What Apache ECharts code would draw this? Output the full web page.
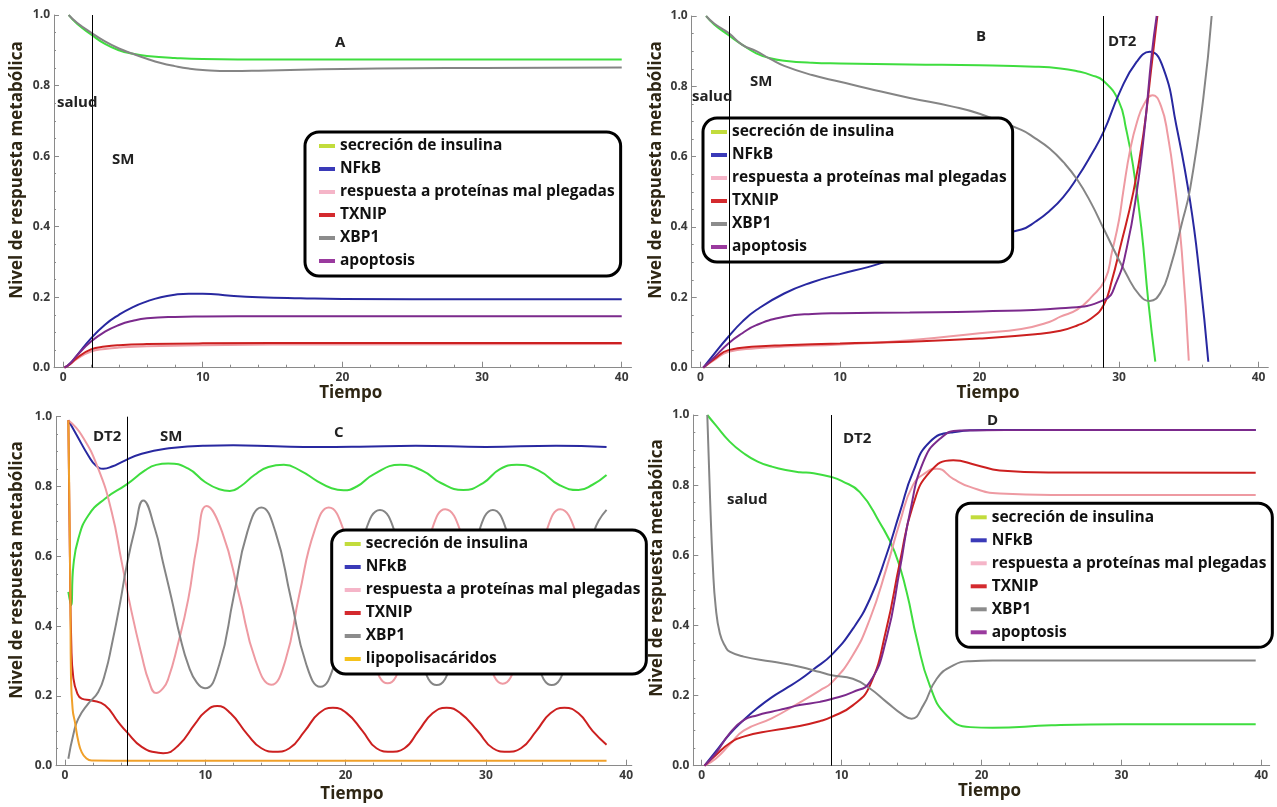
<!DOCTYPE html>
<html lang="es">
<head>
<meta charset="UTF-8">
<title>Nivel de respuesta metabólica</title>
<script src="https://cdn.jsdelivr.net/npm/echarts@6.0.0/dist/echarts.min.js"></script>
<style>
    html, body { margin: 0; padding: 0; background: #fff; }
    #main { width: 1277px; height: 807px; }
</style>
</head>
<body>
<div id="main"></div>
<script>
    // ---- datos: [tiempo, nivel] ----
    // panel A
    var aInsulina = [[0.4,1.0],[1,0.975],[2,0.945],[3,0.918],[4,0.9],[5,0.89],[6,0.884],[8,0.878],[10,0.875],[15,0.874],[20,0.874],[30,0.874],[40,0.874]];
    var aNfkb = [[0.1,0],[0.5,0.012],[1,0.035],[2,0.083],[3,0.122],[4,0.15],[5,0.172],[6,0.188],[7,0.2],[8,0.207],[9,0.21],[10,0.21],[12,0.204],[14,0.2],[17,0.197],[20,0.195],[30,0.194],[40,0.194]];
    var aUpr = [[0.1,0],[0.5,0.01],[1,0.025],[2,0.046],[3,0.053],[4,0.057],[6,0.061],[10,0.064],[20,0.066],[40,0.067]];
    var aTxnip = [[0.1,0],[0.5,0.01],[1,0.028],[2,0.052],[3,0.06],[4,0.064],[6,0.067],[10,0.069],[20,0.07],[40,0.07]];
    var aXbp1 = [[0.4,1.0],[1,0.978],[2,0.95],[3,0.925],[4,0.905],[5,0.89],[6,0.876],[7,0.864],[8,0.855],[9,0.848],[10,0.844],[12,0.841],[14,0.842],[17,0.845],[20,0.847],[25,0.849],[30,0.85],[40,0.851]];
    var aApoptosis = [[0.1,0],[0.5,0.012],[1,0.035],[2,0.074],[3,0.102],[4,0.121],[5,0.133],[6,0.14],[8,0.144],[10,0.145],[15,0.146],[20,0.146],[30,0.146],[40,0.146]];

    // panel B
    var bInsulina = [[0.4,1.0],[1,0.975],[2,0.946],[3,0.918],[4,0.894],[5,0.88],[6,0.873],[8,0.867],[10,0.865],[15,0.862],[20,0.86],[24,0.856],[25.8,0.851],[27,0.843],[28,0.832],[28.9,0.815],[30,0.756],[30.5,0.68],[31,0.576],[31.6,0.397],[32.1,0.188],[32.6,0.017]];
    var bNfkb = [[0.2,0],[1,0.04],[2,0.088],[3,0.131],[4,0.164],[6,0.211],[8,0.243],[10,0.266],[12,0.286],[13,0.298],[15,0.325],[18,0.355],[20,0.37],[23,0.393],[24,0.415],[25,0.445],[26,0.485],[27,0.54],[28,0.605],[28.9,0.671],[30.07,0.785],[31.27,0.87],[32.2,0.898],[33.18,0.851],[34.1,0.69],[35.1,0.472],[35.8,0.254],[36.4,0.017]];
    var bUpr = [[0.2,0],[1,0.022],[2,0.045],[4,0.055],[6,0.06],[10,0.066],[15,0.078],[20,0.098],[23,0.11],[25,0.13],[25.8,0.145],[27,0.165],[28,0.2],[29,0.25],[29.5,0.33],[30,0.42],[30.3,0.5],[30.8,0.62],[31.3,0.7],[31.8,0.75],[32.4,0.775],[33,0.745],[33.5,0.66],[34,0.52],[34.5,0.33],[35,0.02]];
    var bTxnip = [[0.2,0],[1,0.025],[2,0.05],[4,0.06],[6,0.064],[10,0.069],[15,0.074],[20,0.083],[24,0.095],[25.8,0.105],[27,0.12],[28,0.14],[28.9,0.178],[29.5,0.25],[30.07,0.34],[31.03,0.5],[31.74,0.662],[32.34,0.861],[32.75,1.0]];
    var bXbp1 = [[0.4,1.0],[1,0.978],[2,0.952],[3,0.918],[4,0.9],[5,0.878],[6,0.858],[8,0.832],[10,0.813],[12,0.794],[15,0.767],[18,0.743],[20,0.722],[23,0.676],[24,0.652],[25,0.624],[26,0.585],[27,0.535],[28,0.468],[28.9,0.395],[30.55,0.264],[31.5,0.205],[32.2,0.19],[33,0.215],[33.66,0.283],[34.5,0.41],[35.1,0.51],[36.04,0.766],[36.64,1.0]];
    var bApoptosis = [[0.2,0],[1,0.03],[2,0.069],[3,0.098],[4,0.121],[6,0.145],[8,0.153],[10,0.155],[15,0.157],[20,0.16],[25.8,0.169],[28.9,0.192],[29.83,0.245],[30.55,0.34],[31.27,0.5],[31.86,0.69],[32.34,0.889],[32.7,1.0]];

    // panel C
    var cInsulina = [[0.24,0.498],[0.43,0.46],[0.6,0.574],[0.95,0.65],[1.66,0.717],[2.85,0.765],[4.4,0.806],[5.7,0.846],[6.5,0.862],[7.36,0.866],[8.79,0.851],[9.98,0.813],[11,0.792],[11.75,0.787],[12.5,0.8],[13.5,0.833],[14.5,0.856],[15.6,0.862],[16.8,0.845],[18,0.815],[19,0.795],[19.85,0.789],[20.8,0.8],[22,0.835],[23.9,0.862],[25.5,0.845],[26.8,0.81],[28.4,0.79],[29.8,0.81],[31,0.85],[32.2,0.862],[33.8,0.845],[35.2,0.805],[36.6,0.79],[37.6,0.805],[38.6,0.833]];
    var cNfkb = [[0.24,0.99],[0.8,0.95],[1.66,0.889],[2.2,0.86],[2.73,0.851],[3.4,0.858],[4.04,0.87],[5.47,0.894],[7.6,0.91],[9.98,0.917],[12,0.918],[15,0.915],[18,0.913],[21,0.914],[25,0.917],[30,0.913],[35,0.917],[38.6,0.913]];
    var cUpr = [[0.24,0.99],[1.19,0.947],[2.37,0.851],[3.33,0.727],[4.04,0.584],[4.75,0.44],[5.47,0.316],[6.0,0.24],[6.5,0.208],[7.0,0.222],[7.36,0.249],[8.0,0.34],[8.79,0.478],[9.4,0.63],[10.1,0.744],[11.2,0.67],[12.4,0.49],[13.6,0.3],[14.7,0.232],[15.7,0.3],[16.7,0.49],[17.8,0.675],[18.8,0.74],[19.9,0.67],[21.0,0.49],[22.0,0.3],[23.0,0.236],[24.0,0.3],[25.0,0.49],[26.1,0.67],[27.1,0.735],[28.2,0.67],[29.2,0.49],[30.2,0.3],[31.2,0.235],[32.2,0.3],[33.2,0.49],[34.3,0.67],[35.3,0.735],[36.4,0.67],[37.5,0.49],[38.6,0.3]];
    var cTxnip = [[0.24,0.99],[0.35,0.6],[0.45,0.35],[0.6,0.25],[0.9,0.205],[1.19,0.192],[1.9,0.187],[2.85,0.173],[3.8,0.125],[4.4,0.097],[5.47,0.054],[6.65,0.037],[7.0,0.036],[8.08,0.058],[9.27,0.12],[9.98,0.154],[10.85,0.171],[11.8,0.15],[13.0,0.09],[14.0,0.05],[15.0,0.04],[16.0,0.05],[17.1,0.1],[18.1,0.15],[19.1,0.166],[20.1,0.15],[21.2,0.1],[22.2,0.05],[23.2,0.04],[24.2,0.05],[25.2,0.1],[26.2,0.15],[27.2,0.166],[28.2,0.15],[29.4,0.1],[30.5,0.05],[31.5,0.04],[32.5,0.05],[33.6,0.1],[34.6,0.15],[35.6,0.166],[36.6,0.15],[37.6,0.1],[38.6,0.06]];
    var cXbp1 = [[0.24,0.02],[0.6,0.09],[0.95,0.135],[1.66,0.178],[2.37,0.211],[2.9,0.27],[3.33,0.345],[3.9,0.46],[4.4,0.574],[4.99,0.679],[5.58,0.76],[6.41,0.679],[7.0,0.58],[7.6,0.478],[8.2,0.37],[8.79,0.288],[9.4,0.238],[9.98,0.222],[11.0,0.29],[12.0,0.48],[13.0,0.67],[14.0,0.74],[15.0,0.67],[16.1,0.48],[17.2,0.29],[18.2,0.226],[19.2,0.29],[20.3,0.48],[21.4,0.67],[22.45,0.733],[23.5,0.67],[24.5,0.48],[25.5,0.29],[26.5,0.231],[27.5,0.29],[28.5,0.48],[29.5,0.67],[30.5,0.733],[31.5,0.67],[32.6,0.48],[33.7,0.29],[34.7,0.231],[35.7,0.29],[36.7,0.48],[37.7,0.67],[38.6,0.733]];
    var cLps = [[0.24,0.99],[0.3,0.8],[0.38,0.5],[0.43,0.25],[0.55,0.16],[0.71,0.125],[0.95,0.07],[1.19,0.039],[1.5,0.022],[1.9,0.015],[5,0.014],[10,0.014],[20,0.014],[30,0.014],[38.6,0.014]];

    // panel D
    var dInsulina = [[0.4,1.0],[1,0.971],[2,0.924],[3,0.891],[4,0.867],[5,0.853],[6,0.843],[7,0.837],[8,0.834],[9.29,0.823],[10,0.812],[11.3,0.78],[12.7,0.695],[13.8,0.609],[14.65,0.495],[15.37,0.362],[16.3,0.229],[17.5,0.144],[19.2,0.11],[20.8,0.108],[25,0.115],[30,0.118],[39.6,0.118]];
    var dNfkb = [[0.2,0],[1,0.04],[2,0.09],[3,0.13],[4,0.165],[5,0.195],[6,0.22],[7,0.245],[8,0.275],[9.29,0.316],[10.8,0.39],[12.03,0.476],[13.2,0.6],[14.17,0.723],[15.1,0.837],[16.3,0.923],[17.98,0.951],[20.4,0.957],[30,0.957],[39.6,0.957]];
    var dUpr = [[0.2,0],[1,0.02],[2,0.06],[3,0.1],[5,0.135],[7,0.18],[8.46,0.215],[9.29,0.237],[10.8,0.315],[12.03,0.419],[13.2,0.562],[14.17,0.695],[15.1,0.8],[16.08,0.837],[16.8,0.847],[17.98,0.818],[19.18,0.795],[21.3,0.776],[25,0.772],[39.6,0.772]];
    var dTxnip = [[0.2,0],[1,0.03],[2,0.064],[3,0.083],[5,0.1],[7,0.113],[8.46,0.127],[9.29,0.139],[10.8,0.172],[12.03,0.229],[13.2,0.39],[14.17,0.581],[15.1,0.742],[16.3,0.837],[17.98,0.871],[19.66,0.857],[21.3,0.842],[25,0.836],[39.6,0.835]];
    var dXbp1 = [[0.4,1.0],[0.6,0.76],[0.8,0.567],[1,0.453],[1.3,0.377],[1.7,0.339],[2,0.325],[3,0.311],[5,0.297],[7,0.282],[8.46,0.267],[9.29,0.258],[10.8,0.248],[12.03,0.22],[13.2,0.182],[14.41,0.144],[15.0,0.134],[15.84,0.172],[16.8,0.248],[17.98,0.286],[19.18,0.298],[20.8,0.3],[30,0.3],[39.6,0.3]];
    var dApoptosis = [[0.2,0],[1,0.035],[2,0.092],[3,0.13],[4,0.144],[5,0.154],[6,0.163],[7,0.173],[8.46,0.182],[9.29,0.19],[10.8,0.21],[12.03,0.239],[13.2,0.362],[14.17,0.562],[14.89,0.723],[15.84,0.866],[17.03,0.932],[18.46,0.956],[25,0.957],[39.6,0.957]];

    // ejes
    var ticksX = [0, 10, 20, 30, 40];
    var ticksXMenor = [2, 4, 6, 8, 12, 14, 16, 18, 22, 24, 26, 28, 32, 34, 36, 38];

    var nombres = ['secreción de insulina', 'NFkB', 'respuesta a proteínas mal plegadas', 'TXNIP', 'XBP1', 'apoptosis'];
    var nombresC = ['secreción de insulina', 'NFkB', 'respuesta a proteínas mal plegadas', 'TXNIP', 'XBP1', 'lipopolisacáridos'];

    var colorLinea = {
        'secreción de insulina': '#3fdd3f',
        'NFkB': '#2828a0',
        'respuesta a proteínas mal plegadas': '#ee9aa2',
        'TXNIP': '#cc2020',
        'XBP1': '#858585',
        'apoptosis': '#7b2a8c',
        'lipopolisacáridos': '#f0a02a'
    };
    var colorLeyenda = {
        'secreción de insulina': '#c2dc3c',
        'NFkB': '#3a3ab8',
        'respuesta a proteínas mal plegadas': '#f5b5c8',
        'TXNIP': '#d42a2e',
        'XBP1': '#8c8c8c',
        'apoptosis': '#9a3a9e',
        'lipopolisacáridos': '#f5c21b'
    };

    var fuente = '"Open Sans", "Noto Sans", sans-serif';

    // caja: zona blanca que tapa las curvas alrededor de la leyenda
    var paneles = [
        {grid: {left: 54, top: 15, width: 577.5, height: 352.7}, xMin: -0.65, xMax: 40.7, lineas: [2.08],
         datos: [aInsulina, aNfkb, aUpr, aTxnip, aXbp1, aApoptosis], nombres: nombres,
         leyenda: {left: 305, top: 132, izq: 14}, caja: [305, 132, 313, 143], nameGap: 14},
        {grid: {left: 691.7, top: 16, width: 576.6, height: 351.7}, xMin: -0.63, xMax: 40.7, lineas: [2.07, 28.87],
         datos: [bInsulina, bNfkb, bUpr, bTxnip, bXbp1, bApoptosis], nombres: nombres,
         leyenda: {left: 703, top: 118, izq: 8}, caja: [703, 118, 312, 144], nameGap: 14},
        {grid: {left: 56, top: 416.7, width: 575.8, height: 349}, xMin: -0.64, xMax: 40.4, lineas: [4.42],
         datos: [cInsulina, cNfkb, cUpr, cTxnip, cXbp1, cLps], nombres: nombresC,
         leyenda: {left: 331.7, top: 530, izq: 13}, caja: [331.7, 530, 308.3, 141.7], nameGap: 20},
        {grid: {left: 693.3, top: 415, width: 576.4, height: 350.7}, xMin: -0.6, xMax: 40.6, lineas: [9.29],
         datos: [dInsulina, dNfkb, dUpr, dTxnip, dXbp1, dApoptosis], nombres: nombres,
         leyenda: {left: 956.7, top: 503.3, izq: 14}, caja: [956.7, 503.3, 313.3, 143.4], nameGap: 16}
    ];

    var etiquetas = [
        ['salud', 57, 103], ['SM', 112, 160], ['A', 335, 43],
        ['salud', 692, 97], ['SM', 750, 82], ['B', 976, 37], ['DT2', 1108, 42],
        ['DT2', 93, 437], ['SM', 160, 437], ['C', 334, 433],
        ['DT2', 843, 439], ['salud', 727, 500], ['D', 987, 421]
    ];
    var titulosY = [[17, 170], [656, 170], [17.5, 570], [657, 568]];

    var grids = [], xAxes = [], yAxes = [], series = [], legends = [], graphics = [];
    var gris = '#8a8a8a';
    var textoEje = {fontFamily: fuente, fontSize: 12, fontWeight: 'bold', color: '#3a3a3a'};

    paneles.forEach(function (p, i) {
        grids.push(p.grid);
        xAxes.push({
            type: 'value', gridIndex: i, min: p.xMin, max: p.xMax, position: 'bottom',
            axisLine: {show: true, onZero: false, lineStyle: {color: gris, width: 1}},
            axisTick: {show: true, inside: true, length: 6, customValues: ticksX, lineStyle: {color: gris}},
            axisLabel: Object.assign({customValues: ticksX, margin: 4}, textoEje),
            splitLine: {show: false},
            name: 'Tiempo', nameLocation: 'middle', nameGap: p.nameGap,
            nameTextStyle: {fontFamily: fuente, fontSize: 17, fontWeight: 'bold', color: '#2e2614', padding: [0, 0, 0, 16]}
        });
        xAxes.push({
            type: 'value', gridIndex: i, min: p.xMin, max: p.xMax, position: 'bottom',
            axisLine: {show: false, onZero: false},
            axisTick: {show: true, inside: true, length: 3, customValues: ticksXMenor, lineStyle: {color: gris}},
            axisLabel: {show: false},
            splitLine: {show: false}
        });
        yAxes.push({
            type: 'value', gridIndex: i, min: 0, max: 1, interval: 0.2,
            axisLine: {show: true, onZero: false, lineStyle: {color: gris, width: 1}},
            axisTick: {show: true, inside: true, length: 5, lineStyle: {color: gris}},
            minorTick: {show: true, splitNumber: 4, length: 2, lineStyle: {color: gris}},
            axisLabel: Object.assign({margin: 4, formatter: function (v) { return v.toFixed(1); }}, textoEje),
            splitLine: {show: false}
        });

        p.datos.forEach(function (d, k) {
            var nombre = p.nombres[k];
            var s = {
                name: nombre, type: 'line', xAxisIndex: i * 2, yAxisIndex: i,
                data: d, smooth: 0.5, showSymbol: false, symbol: 'none',
                lineStyle: {color: colorLinea[nombre], width: 2},
                itemStyle: {color: colorLinea[nombre]},
                emphasis: {disabled: true}
            };
            if (k === 0) {
                s.markLine = {
                    silent: true, symbol: ['none', 'none'], label: {show: false},
                    lineStyle: {color: '#000', width: 1, type: 'solid'},
                    emphasis: {disabled: true},
                    data: p.lineas.map(function (v) { return {xAxis: v}; })
                };
            }
            series.push(s);
        });

        legends.push({
            orient: 'vertical', left: p.leyenda.left, top: p.leyenda.top,
            backgroundColor: '#fff', borderColor: '#000', borderWidth: 3, borderRadius: 14,
            padding: [6, 6, 7, p.leyenda.izq], itemGap: 7, itemWidth: 16, itemHeight: 4, icon: 'rect',
            selectedMode: false,
            textStyle: {fontFamily: fuente, fontSize: 15.5, fontWeight: 'bold', color: '#111', lineHeight: 15},
            data: p.nombres.map(function (n) {
                return {name: n, itemStyle: {color: colorLeyenda[n], borderWidth: 0}};
            })
        });

        graphics.push({
            type: 'rect', z: 3, silent: true,
            shape: {x: p.caja[0] - 7, y: p.caja[1] - 7, width: p.caja[2] + 14, height: p.caja[3] + 12, r: 16},
            style: {fill: '#fff'}
        });
    });

    etiquetas.forEach(function (e) {
        graphics.push({
            type: 'text', x: e[1], y: e[2], silent: true, z: 10,
            style: {text: e[0], font: 'bold 15px ' + fuente, fill: '#222', textAlign: 'left', textVerticalAlign: 'middle'}
        });
    });
    titulosY.forEach(function (t) {
        graphics.push({
            type: 'text', x: t[0], y: t[1], rotation: Math.PI / 2, silent: true,
            style: {text: 'Nivel de respuesta metabólica', font: 'bold 17px ' + fuente, fill: '#2e2614',
                    textAlign: 'center', textVerticalAlign: 'middle'}
        });
    });

    var chart = echarts.init(document.getElementById('main'));
    chart.setOption({
        animation: false,
        backgroundColor: '#fff',
        grid: grids,
        xAxis: xAxes,
        yAxis: yAxes,
        legend: legends,
        series: series,
        graphic: graphics
    });
</script>
</body>
</html>
